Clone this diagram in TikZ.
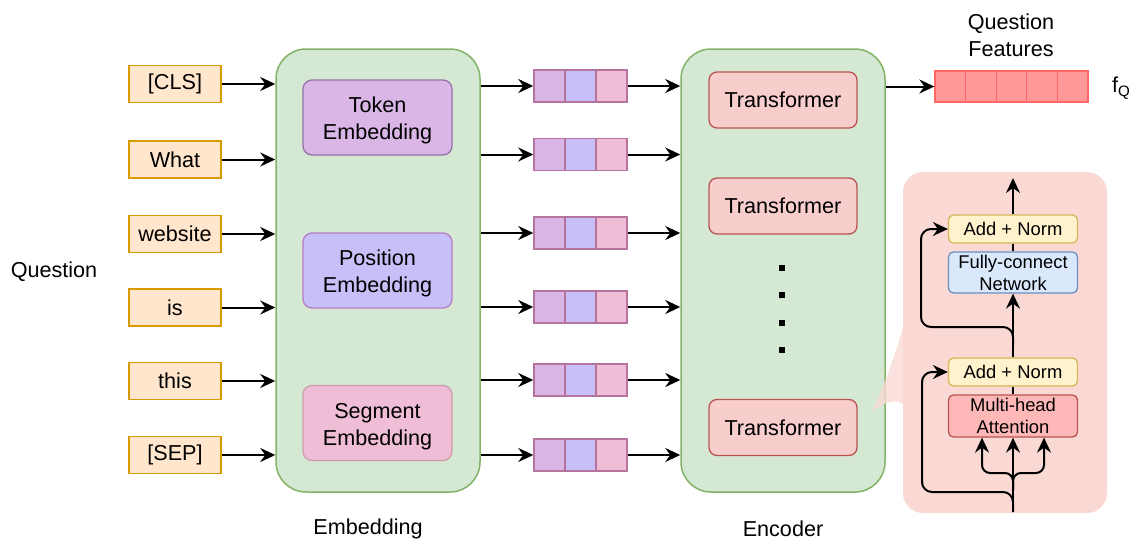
\documentclass[tikz,border=0pt]{standalone}
\usepackage{fontspec}
\setmainfont{Liberation Sans}
\usetikzlibrary{arrows.meta,calc}

\definecolor{tokfill}{HTML}{FFE6CC}
\definecolor{tokdraw}{HTML}{D79B00}
\definecolor{grnfill}{HTML}{D5E8D4}
\definecolor{grndraw}{HTML}{82B366}
\definecolor{tefill}{HTML}{DAB6E6}
\definecolor{tedraw}{HTML}{9673A6}
\definecolor{pefill}{HTML}{C8BFF8}
\definecolor{pedraw}{HTML}{B47CC7}
\definecolor{sefill}{HTML}{EFBDD6}
\definecolor{sedraw}{HTML}{CC9EA8}
\definecolor{vecdraw}{HTML}{B5739D}
\definecolor{trfill}{HTML}{F8CECC}
\definecolor{trdraw}{HTML}{B85450}
\definecolor{ftfill}{HTML}{FF9999}
\definecolor{ftdraw}{HTML}{FF6666}
\definecolor{panelfill}{HTML}{FAD9D5}
\definecolor{anfill}{HTML}{FFF2CC}
\definecolor{andraw}{HTML}{D6B656}
\definecolor{fcfill}{HTML}{DAE8FC}
\definecolor{fcdraw}{HTML}{6C8EBF}
\definecolor{mhfill}{HTML}{FFB8B8}

\newcommand{\bigtxt}{\fontsize{21.6}{27}\selectfont}
\newcommand{\smalltxt}{\fontsize{18.4}{22}\selectfont}
% extra height on the first line keeps two-line labels optically centred
\newcommand{\firstline}{\rule{0pt}{22pt}}

\tikzset{
  arr/.style={-{Stealth[length=15pt,width=14pt,inset=5pt]}, line width=2pt},
  link/.style={line width=2pt},
  token/.style={draw=tokdraw, fill=tokfill, line width=1.5pt, minimum width=92pt,
    minimum height=37pt, inner sep=0pt, font=\bigtxt},
  container/.style={draw=grndraw, fill=grnfill, line width=1.5pt, rounded corners=30pt,
    minimum width=204pt, minimum height=443pt, inner sep=0pt},
  embbox/.style={line width=1.3pt, rounded corners=9pt, minimum width=149pt,
    minimum height=75pt, inner sep=0pt, align=center, font=\bigtxt},
  cell/.style={draw=vecdraw, line width=1.5pt, minimum width=31pt, minimum height=32pt,
    inner sep=0pt},
  trans/.style={draw=trdraw, fill=trfill, line width=1.3pt, rounded corners=8pt,
    minimum width=148pt, minimum height=56pt, inner sep=0pt, font=\bigtxt},
  feat/.style={draw=ftdraw, fill=ftfill, line width=1.3pt, minimum width=30.6pt,
    minimum height=31pt, inner sep=0pt},
  sub/.style={line width=1.3pt, rounded corners=5pt, minimum width=129pt,
    inner sep=0pt, align=center, font=\smalltxt},
  lbl/.style={inner sep=0pt, align=center, font=\bigtxt},
}

\begin{document}
\begin{tikzpicture}[x=1pt,y=-1pt]
\useasboundingbox (0,0) rectangle (1136,541);

% embedding and encoder containers
\node[container] (emb) at (378,270.5) {};
\node[container] (enc) at (783,270.5) {};

% embedding layers
\node[embbox, draw=tedraw, fill=tefill] (te) at (377.5,117.5) {\firstline Token\\Embedding};
\node[embbox, draw=pedraw, fill=pefill] (pe) at (377.5,270.5) {\firstline Position\\Embedding};
\node[embbox, draw=sedraw, fill=sefill] (se) at (377.5,423) {\firstline Segment\\Embedding};

% input tokens
\foreach \i/\t/\y in {1/{[CLS]}/84, 2/What/159.5, 3/website/234, 4/is/307.5, 5/this/381, 6/{[SEP]}/455} {
  \node[token] (t\i) at (175,\y) {\t};
  \draw[arr] (t\i.east) -- (t\i.east -| emb.west);
}

% token vectors
\foreach \i/\y in {1/86, 2/154.5, 3/233, 4/307, 5/380, 6/455} {
  \node[cell, fill=tefill] (v\i-1) at (549.5,\y) {};
  \node[cell, fill=pefill] (v\i-2) at (580.5,\y) {};
  \node[cell, fill=sefill] (v\i-3) at (611.5,\y) {};
  \draw[arr] (v\i-1.west -| emb.east) -- (v\i-1.west);
  \draw[arr] (v\i-3.east) -- (v\i-3.east -| enc.west);
}

% transformer stack
\node[trans] (tr1) at (783,100) {Transformer};
\node[trans] (tr2) at (783,206) {Transformer};
\node[trans] (tr3) at (783,427.5) {Transformer};
\foreach \y in {268,295,323,350}
  \fill (779,\y-3) rectangle (785,\y+3);

% question features
\foreach \i/\x in {1/950.3, 2/980.9, 3/1011.5, 4/1042.1, 5/1072.7}
  \node[feat] (f\i) at (\x,86.5) {};
\draw[arr] (f1.west -| enc.east) -- (f1.west);
\node[lbl] (qf) at (1011,35.5) {Question\\Features};
\node[lbl, anchor=west] (fq) at (1112,88) {f\textsubscript{Q}};

% labels
\node[lbl] (ql) at (54,272) {Question};
\node[lbl] (el) at (368,529) {Embedding};
\node[lbl] (nl) at (783,529) {Encoder};

% transformer detail panel
\fill[panelfill, rounded corners=20pt] (903,172) rectangle (1107,513);
\fill[panelfill, fill opacity=0.8] (903,328) .. controls (894,360) and (880,395) .. (872,412)
  .. controls (885,401) and (896,399) .. (903,404) -- cycle;

\node[sub, draw=andraw, fill=anfill, minimum height=28pt] (an2) at (1013,229) {Add + Norm};
\node[sub, draw=fcdraw, fill=fcfill, minimum height=41pt] (fcn) at (1013,272.5) {Fully-connect\\Network};
\node[sub, draw=andraw, fill=anfill, minimum height=28pt] (an1) at (1013,372) {Add + Norm};
\node[sub, draw=trdraw, fill=mhfill, minimum height=42pt] (mha) at (1013,416) {Multi-head\\Attention};

\coordinate (out) at (1013,178);
\coordinate (in) at (1013,512);

\draw[arr] (an2.north) -- (out);
\draw[link] (an2.south) -- (fcn.north);
\draw[arr] (an1.north) -- (fcn.south);
\draw[link] (mha.north) -- (an1.south);

% residual paths
\draw[arr, rounded corners=10pt] (1013,345) -- (1013,327) -| (921,229) -- (an2.west);
\draw[arr, rounded corners=10pt] (in) -- (1013,492) -| (922,372) -- (an1.west);

% attention inputs
\draw[arr] (in) -- (mha.south);
\draw[arr, rounded corners=8pt] (1013,490) -- (1013,473) -| ($(mha.south)+(-31,0)$);
\draw[arr, rounded corners=8pt] (1013,490) -- (1013,473) -| ($(mha.south)+(31,0)$);
\end{tikzpicture}
\end{document}
